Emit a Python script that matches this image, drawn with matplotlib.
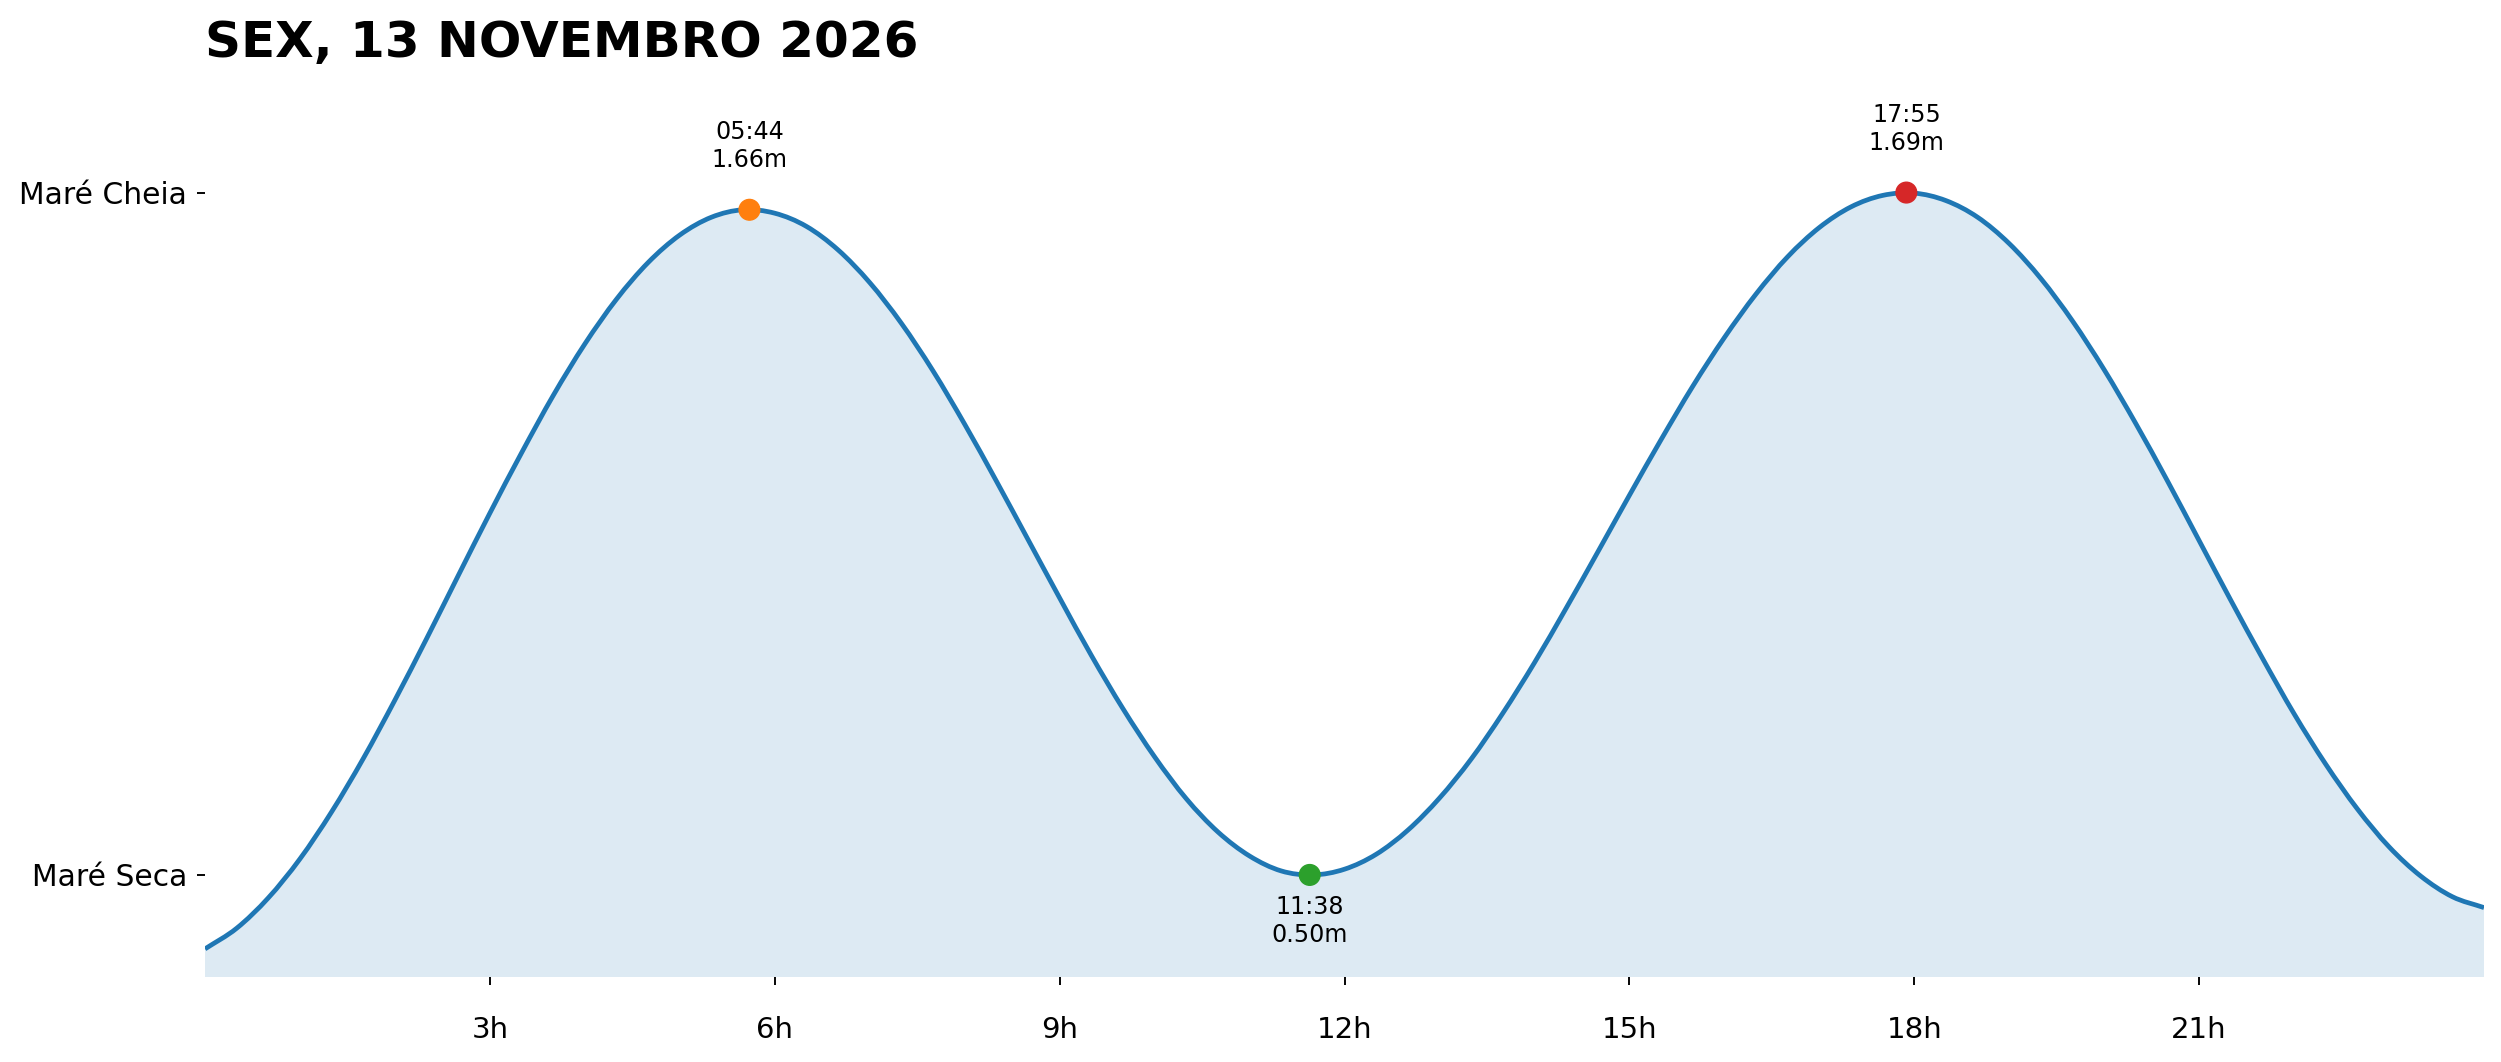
import numpy as np
import matplotlib
matplotlib.use("Agg")
import matplotlib.pyplot as plt
from matplotlib.path import Path
from matplotlib.patches import PathPatch

# ---- data ----
title = "SEX, 13 NOVEMBRO 2026"
step_hours = 1 / 3  # one reading every 20 minutes, 00:00 .. 24:00
heights = [0.371, 0.407, 0.460, 0.528, 0.610, 0.703, 0.805, 0.912, 1.022, 1.131,
           1.236, 1.336, 1.426, 1.504, 1.568, 1.616, 1.647, 1.660, 1.654, 1.631,
           1.590, 1.533, 1.462, 1.379, 1.286, 1.187, 1.085, 0.983, 0.883, 0.790,
           0.706, 0.633, 0.575, 0.533, 0.507, 0.500, 0.510, 0.536, 0.578, 0.634,
           0.702, 0.782, 0.870, 0.965, 1.063, 1.162, 1.259, 1.352, 1.437, 1.513,
           1.578, 1.629, 1.665, 1.685, 1.689, 1.676, 1.647, 1.601, 1.540, 1.466,
           1.381, 1.287, 1.187, 1.083, 0.979, 0.878, 0.781, 0.693, 0.615, 0.549,
           0.498, 0.462, 0.443]
event_labels = ["05:44", "11:38", "17:55"]
event_hours = [5 + 44 / 60, 11 + 38 / 60, 17 + 55 / 60]
event_heights = [1.66, 0.50, 1.69]
event_kind = ["high", "low", "high"]
event_colors = ["#ff7f0e", "#2ca02c", "#d62728"]
xtick_hours = [3, 6, 9, 12, 15, 18, 21]
xtick_labels = [f"{h}h" for h in xtick_hours]
ytick_labels = ["Maré Seca", "Maré Cheia"]

times = np.arange(len(heights)) * step_hours
vals = np.array(heights)

# smooth rendering of the sampled readings as a Bezier path (Catmull-Rom)
def smooth_vertices(x, y):
    n = len(x)
    verts = [(x[0], y[0])]
    codes = [Path.MOVETO]
    for i in range(n - 1):
        if i > 0:
            x0, y0 = x[i - 1], y[i - 1]
        else:
            x0, y0 = 2 * x[0] - x[1], 2 * y[0] - y[1]
        x1, y1 = x[i], y[i]
        x2, y2 = x[i + 1], y[i + 1]
        if i + 2 < n:
            x3, y3 = x[i + 2], y[i + 2]
        else:
            x3, y3 = 2 * x[-1] - x[-2], 2 * y[-1] - y[-2]
        c1 = (x1 + (x2 - x0) / 6, y1 + (y2 - y0) / 6)
        c2 = (x2 - (x3 - x1) / 6, y2 - (y3 - y1) / 6)
        verts += [c1, c2, (x2, y2)]
        codes += [Path.CURVE4] * 3
    return verts, codes

line_color = "#1f77b4"
fig = plt.figure(figsize=(25.01, 10.62), dpi=100)
ax = fig.add_axes([0.08197, 0.08004, 0.91124, 0.85311])
ax.set_xlim(0, 24)
ax.set_ylim(0.322, 1.902)

verts, codes = smooth_vertices(times, vals)
base = 0.0
fill_verts = [(times[0], base)] + verts + [(times[-1], base), (times[0], base)]
fill_codes = [Path.MOVETO] + [Path.LINETO] + codes[1:] + [Path.LINETO, Path.CLOSEPOLY]
ax.add_patch(PathPatch(Path(fill_verts, fill_codes), facecolor=line_color,
                       alpha=0.15, lw=0, zorder=1))
ax.add_patch(PathPatch(Path(verts, codes), facecolor="none", edgecolor=line_color,
                       lw=3.42, zorder=2, capstyle="butt", joinstyle="round"))

ax.scatter(event_hours, event_heights, s=222, c=event_colors, zorder=5)
for lab, t, h, kind in zip(event_labels, event_hours, event_heights, event_kind):
    txt = f"{lab}\n{h:.2f}m"
    if kind == "high":
        ax.annotate(txt, (t, h), xytext=(0, 38), textcoords="offset pixels",
                    ha="center", va="bottom", fontsize=17.1, ma="center")
    else:
        ax.annotate(txt, (t, h), xytext=(0, -20), textcoords="offset pixels",
                    ha="center", va="top", fontsize=17.1, ma="center")

ax.set_xticks(xtick_hours)
ax.set_xticklabels(xtick_labels)
ax.set_yticks([min(event_heights), max(event_heights)])
ax.set_yticklabels(ytick_labels)
ax.tick_params(axis="x", labelsize=21, length=6, width=1.37, pad=22)
ax.tick_params(axis="y", labelsize=21.4, length=6, width=1.37, pad=7)
for s in ax.spines.values():
    s.set_visible(False)

ax.set_title(title, loc="left", fontsize=36, fontweight="bold", pad=10.4)

fig.savefig("out.png", dpi=100)
